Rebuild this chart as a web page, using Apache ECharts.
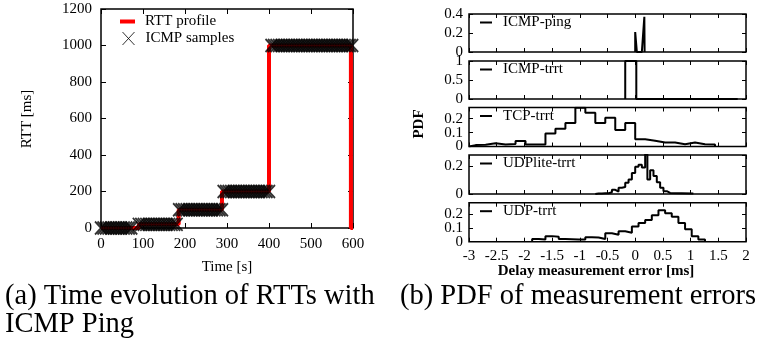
<!DOCTYPE html>
<html><head><meta charset="utf-8">
<script src="https://cdn.jsdelivr.net/npm/echarts@6/dist/echarts.min.js"></script>
<style>html,body{margin:0;padding:0;background:#fff}#c{width:762px;height:345px}</style>
</head><body><div id="c"></div>
<script>
// ---------- (a) Time evolution of RTTs ----------
const profileTime = [0, 90, 185, 288, 400, 595, 600];
const profileRtt  = [0, 20, 100, 200, 1000, 0, 0];
const pingTime = [0,6,12,18,24,30,36,42,48,54,60,66,72,
  90,96,102,108,114,120,126,132,138,144,150,156,162,168,174,180,
  186,192,198,204,210,216,222,228,234,240,246,252,258,264,270,276,282,288,
  292,298,304,310,316,322,328,334,340,346,352,358,364,370,376,382,388,394,400,
  406,412,418,424,430,436,442,448,454,460,466,472,478,484,490,496,502,508,514,520,526,532,538,544,550,556,562,568,574,580,586,592,598];
const pingRtt = [0,0,0,0,0,0,0,0,0,0,0,0,0,
  20,20,20,20,20,20,20,20,20,20,20,20,20,20,20,20,
  100,100,100,100,100,100,100,100,100,100,100,100,100,100,100,100,100,100,
  200,200,200,200,200,200,200,200,200,200,200,200,200,200,200,200,200,200,200,
  1000,1000,1000,1000,1000,1000,1000,1000,1000,1000,1000,1000,1000,1000,1000,1000,1000,1000,1000,1000,1000,1000,1000,1000,1000,1000,1000,1000,1000,1000,1000,1000,1000];

// ---------- (b) PDF of measurement errors ----------
const icmpPingX = [0, 0, 0.03, 0.12, 0.165, 0.17];
const icmpPingY = [0, 0.21, 0, 0, 0.37, 0];
const icmpTrrtEdges = [-0.18, 0.02, 1.85];
const icmpTrrtVals  = [1, 0];
const tcpEdges = [-3.0,-2.88,-2.70,-2.52,-2.34,-2.16,-1.98,-1.80,-1.62,-1.44,-1.26,-1.08,-0.90,-0.72,-0.54,-0.36,-0.18,0,0.18,0.36,0.54,0.72,0.90,1.08,1.26,1.44];
const tcpVals  = [0.01,0.012,0.024,0.014,0.018,0.04,0.015,0.015,0.094,0.127,0.169,0.278,0.242,0.169,0.207,0.118,0.169,0.052,0.042,0.028,0.028,0.016,0.028,0.016,0.014];
const udpliteEdges = [-0.72,-0.66,-0.60,-0.54,-0.48,-0.42,-0.36,-0.30,-0.24,-0.18,-0.12,-0.06,0,0.06,0.12,0.18,0.22,0.27,0.33,0.39,0.45,0.51,0.57,0.63,1.05];
const udpliteVals  = [0.004,0.004,0.006,0.006,0.012,0.03,0.018,0.045,0.05,0.08,0.105,0.15,0.195,0.21,0.19,0.285,0.105,0.17,0.13,0.085,0.045,0.02,0.008,0.004];
const udpEdges = [-1.86,-1.74,-1.62,-1.50,-1.38,-1.26,-1.14,-1.02,-0.90,-0.78,-0.66,-0.54,-0.42,-0.30,-0.18,-0.06,0.06,0.18,0.30,0.42,0.54,0.66,0.78,0.90,1.02,1.14,1.26];
const udpVals  = [0.02,0.015,0.04,0.035,0.02,0.018,0.015,0.015,0.032,0.03,0.02,0.06,0.05,0.075,0.065,0.11,0.135,0.155,0.19,0.225,0.205,0.18,0.135,0.09,0.04,0.015];

const panelNames = ['ICMP-ping', 'ICMP-trrt', 'TCP-trrt', 'UDPlite-trrt', 'UDP-trrt'];
const panelYMax = [0.4, 1, 0.28, 0.28, 0.28];
const panelYInterval = [0.2, 0.5, 0.1, 0.2, 0.1];
const panelShowMax = [true, true, false, false, false];

const FONT = '"Liberation Serif", "Times New Roman", serif';

function zip(xs, ys) { return xs.map((x, i) => [x, ys[i]]); }
function histPoints(edges, vals) {
  const pts = [[edges[0], 0]];
  for (let i = 0; i < vals.length; i++) pts.push([edges[i + 1], vals[i]]);
  pts.push([edges[edges.length - 1], 0]);
  return pts;
}

const panelTops = [14, 61, 107.5, 155, 202.7];
const panelHeights = [38, 38, 39, 39, 39];

const grids = [{ left: 101, top: 9, width: 252, height: 219 }];
panelTops.forEach((t, i) => grids.push({ left: 469, top: t, width: 277, height: panelHeights[i] }));
grids.forEach(g => { g.show = true; g.borderColor = '#000'; g.borderWidth = 1.5; g.backgroundColor = 'transparent'; });

const tickStyle = { show: true, inside: true, length: 5, lineStyle: { color: '#000', width: 1 } };
const lblStyle = { fontFamily: FONT, fontSize: 15, color: '#000' };
const noLine = { show: false, onZero: false };
const plain = v => String(v);

const xAxes = [
  { type: 'value', gridIndex: 0, position: 'bottom', min: 0, max: 600, interval: 100,
    axisLine: noLine, axisTick: tickStyle, splitLine: { show: false },
    axisLabel: Object.assign({ margin: 9, formatter: plain }, lblStyle) },
  { type: 'value', gridIndex: 0, position: 'top', min: 0, max: 600, interval: 100,
    axisLine: noLine, axisTick: tickStyle, splitLine: { show: false }, axisLabel: { show: false } }
];
const yAxes = [
  { type: 'value', gridIndex: 0, position: 'left', min: 0, max: 1200, interval: 200,
    axisLine: noLine, axisTick: tickStyle, splitLine: { show: false },
    axisLabel: Object.assign({ margin: 9, formatter: plain }, lblStyle) },
  { type: 'value', gridIndex: 0, position: 'right', min: 0, max: 1200, interval: 200,
    axisLine: noLine, axisTick: tickStyle, splitLine: { show: false }, axisLabel: { show: false } }
];
const panelX = [], panelY = [];
for (let i = 0; i < 5; i++) {
  const small = Object.assign({}, tickStyle, { length: 4 });
  const dense = panelYInterval[i] < 0.2;
  panelX.push(xAxes.length);
  xAxes.push({ type: 'value', gridIndex: i + 1, position: 'bottom', min: -3, max: 2, interval: 0.5,
    axisLine: noLine, axisTick: small, splitLine: { show: false },
    axisLabel: i === 4 ? Object.assign({ margin: 7, formatter: plain }, lblStyle) : { show: false } });
  xAxes.push({ type: 'value', gridIndex: i + 1, position: 'top', min: -3, max: 2, interval: 0.5,
    axisLine: noLine, axisTick: small, splitLine: { show: false }, axisLabel: { show: false } });
  panelY.push(yAxes.length);
  yAxes.push({ type: 'value', gridIndex: i + 1, position: 'left', min: 0, max: panelYMax[i], interval: panelYInterval[i],
    axisLine: noLine, axisTick: small, splitLine: { show: false },
    axisLabel: Object.assign({ margin: 6, showMinLabel: !dense, showMaxLabel: panelShowMax[i], formatter: plain }, lblStyle) });
  yAxes.push({ type: 'value', gridIndex: i + 1, position: 'right', min: 0, max: panelYMax[i], interval: panelYInterval[i],
    axisLine: noLine, axisTick: small, splitLine: { show: false }, axisLabel: { show: false } });
  if (dense) {
    // separate axis carrying only the "0" label, so it is not dropped for overlapping 0.1
    yAxes.push({ type: 'value', gridIndex: i + 1, position: 'left', offset: 0, min: 0, max: panelYMax[i], interval: 0.2,
      axisLine: noLine, axisTick: { show: false }, splitLine: { show: false },
      axisLabel: Object.assign({ margin: 6, showMinLabel: true, showMaxLabel: false,
        formatter: v => (v === 0 ? '0' : '') }, lblStyle) });
  }
}

const panelData = [
  zip(icmpPingX, icmpPingY),
  histPoints(icmpTrrtEdges, icmpTrrtVals),
  histPoints(tcpEdges, tcpVals),
  histPoints(udpliteEdges, udpliteVals),
  histPoints(udpEdges, udpVals)
];

const series = [
  { name: 'RTT profile', type: 'line', xAxisIndex: 0, yAxisIndex: 0, data: zip(profileTime, profileRtt),
    step: 'end', symbol: 'none', color: '#ff0000', lineStyle: { color: '#ff0000', width: 4 }, z: 2, animation: false },
  { name: 'ICMP samples', type: 'scatter', xAxisIndex: 0, yAxisIndex: 0, data: zip(pingTime, pingRtt),
    symbol: 'path://M0,0L12,13M12,0L0,13', symbolSize: [12, 13], clip: false,
    itemStyle: { color: 'transparent', borderColor: '#000', borderWidth: 1.8 }, z: 3, animation: false }
];
panelData.forEach((d, i) => {
  series.push({ name: panelNames[i], type: 'line', xAxisIndex: panelX[i], yAxisIndex: panelY[i], data: d,
    step: i === 0 ? false : 'start', symbol: 'none', color: '#000', lineStyle: { color: '#000', width: 2 }, animation: false });
});

const legends = [
  { data: ['RTT profile'], left: 120, top: 14, padding: 0, itemWidth: 15, itemHeight: 4, icon: 'rect',
    textStyle: Object.assign({ padding: [0, 0, 0, 5] }, lblStyle), selectedMode: false },
  { data: ['ICMP samples'], left: 122, top: 31, padding: 0, itemWidth: 12, itemHeight: 13,
    icon: 'path://M0,0L12,13M12,0L0,13', itemStyle: { color: 'transparent', borderColor: '#000', borderWidth: 1 },
    textStyle: Object.assign({ padding: [0, 0, 0, 6] }, lblStyle), selectedMode: false }
];
panelTops.forEach((t, i) => legends.push({ data: [panelNames[i]], left: 480, top: t + 1, padding: 0,
  itemWidth: 12, itemHeight: 2, icon: 'rect', textStyle: Object.assign({ padding: [0, 0, 0, 6] }, lblStyle), selectedMode: false }));

const capStyle = { fontFamily: FONT, fontSize: 28.5, fill: '#000', textVerticalAlign: 'middle', textAlign: 'left' };
const graphics = [
  { type: 'text', x: 27, y: 119, rotation: Math.PI / 2, style: { text: 'RTT [ms]', fontFamily: FONT, fontSize: 15, fill: '#000', textAlign: 'center', textVerticalAlign: 'middle' } },
  { type: 'text', x: 227, y: 267, style: { text: 'Time [s]', fontFamily: FONT, fontSize: 15, fill: '#000', textAlign: 'center', textVerticalAlign: 'middle' } },
  { type: 'text', x: 419, y: 124, rotation: Math.PI / 2, style: { text: 'PDF', fontFamily: FONT, fontSize: 15, fontWeight: 'bold', fill: '#000', textAlign: 'center', textVerticalAlign: 'middle' } },
  { type: 'text', x: 596, y: 271, style: { text: 'Delay measurement error [ms]', fontFamily: FONT, fontSize: 15, fontWeight: 'bold', fill: '#000', textAlign: 'center', textVerticalAlign: 'middle' } },
  { type: 'text', x: 5, y: 297, style: Object.assign({ text: '(a) Time evolution of RTTs with' }, capStyle) },
  { type: 'text', x: 5, y: 325, style: Object.assign({ text: 'ICMP Ping' }, capStyle) },
  { type: 'text', x: 400, y: 297, style: Object.assign({ text: '(b) PDF of measurement errors' }, capStyle) }
];

const chart = echarts.init(document.getElementById('c'), null, { renderer: 'canvas' });
chart.setOption({
  animation: false,
  backgroundColor: '#fff',
  grid: grids,
  xAxis: xAxes,
  yAxis: yAxes,
  legend: legends,
  series: series,
  graphic: graphics
});
</script></body></html>
